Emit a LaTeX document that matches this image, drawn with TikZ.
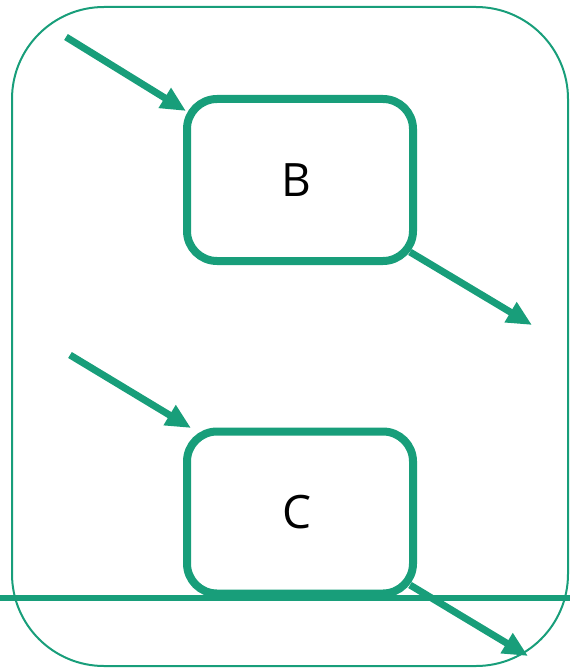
\documentclass[tikz,border=0pt]{standalone}
\usepackage{fontspec}
\setmainfont{Open Sans}
\usetikzlibrary{arrows.meta,calc}
\definecolor{tealg}{RGB}{24,158,122}
\tikzset{
  box/.style={draw=tealg, line width=8pt, rounded corners=30pt, minimum width=226pt, minimum height=162pt, inner sep=0pt, outer sep=0pt, font=\fontsize{46}{50}\selectfont},
  arr/.style={draw=tealg, line width=7pt, -{Triangle[length=25pt,width=22pt]}},
}
\begin{document}
\begin{tikzpicture}[x=1pt,y=-1pt]
\useasboundingbox (0,0) rectangle (570,668);
\draw[tealg, line width=2pt, rounded corners=92pt] (12,7) rectangle (568,666);
\node[box] (B) at (300,180) {\hspace*{-8pt}B};
\node[box] (C) at (300,512.5) {\hspace*{-6pt}C};
\draw[tealg, line width=6pt] (0,598) coordinate (L1) -- (570,598) coordinate (L2);
\coordinate (a1) at (66,37);
\coordinate (a2) at (532,325);
\coordinate (a3) at (70,355);
\coordinate (a4) at (528,656);
\draw[arr] (a1) -- ([shift={(-1,12)}]B.north west);
\draw[arr] ([shift={(-3,-9)}]B.south east) -- (a2);
\draw[arr] (a3) -- ([shift={(4,-3.5)}]C.north west);
\draw[arr] ([shift={(-3,-8.5)}]C.south east) -- (a4);
\end{tikzpicture}
\end{document}
